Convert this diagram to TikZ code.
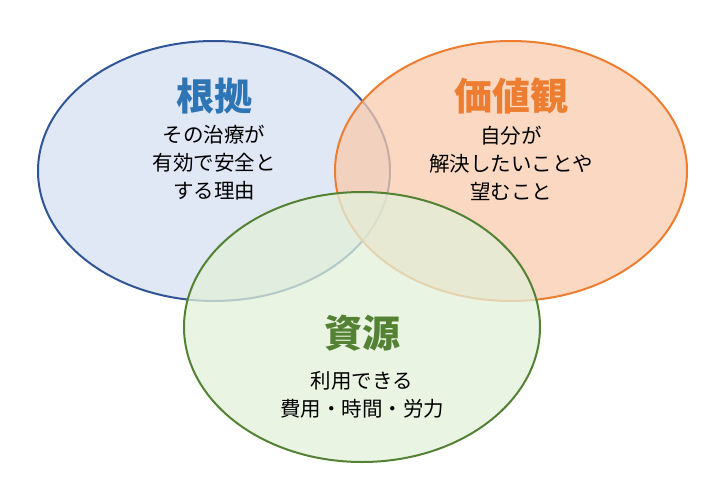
\documentclass[tikz,border=0pt]{standalone}
\usepackage{fontspec}
\newfontfamily\cjk{Noto Sans CJK JP}
\definecolor{evblue}{HTML}{2F5597}
\definecolor{evfill}{HTML}{D6DFF1}
\definecolor{vaorange}{HTML}{ED7D31}
\definecolor{vafill}{HTML}{F8CBAD}
\definecolor{regreen}{HTML}{548235}
\definecolor{refill}{HTML}{E2F0D9}
\definecolor{titleblue}{HTML}{2E75B6}
\begin{document}
\begin{tikzpicture}[x=1pt,y=-1pt,
        circ/.style={line width=2pt,fill opacity=0.75},
        title/.style={font=\cjk\bfseries\fontsize{38}{40}\selectfont},
        body/.style={font=\cjk\fontsize{20.5}{28}\selectfont,align=center},
        ]
    \useasboundingbox (0,0) rectangle (720,498);
    % circles
    \draw[circ,draw=evblue,fill=evfill] (214,171) ellipse [x radius=176,y radius=130];
    \draw[circ,draw=vaorange,fill=vafill] (511,171) ellipse [x radius=176,y radius=130];
    \draw[circ,draw=regreen,fill=refill] (362,327) ellipse [x radius=178,y radius=135];
    % labels
    \node[title,text=titleblue] (ev) at (214,96) {根拠};
    \node[body] (evt) at (214,163) {その治療が\\有効で安全と\\する理由};
    \node[title,text=vaorange] (va) at (511,96) {価値観};
    \node[body] (vat) at (511,163) {自分が\\解決したいことや\\望むこと};
    \node[title,text=regreen] (re) at (362,333) {資源};
    \node[body] (ret) at (362,395) {利用できる\\費用・時間・労力};
\end{tikzpicture}
\end{document}
